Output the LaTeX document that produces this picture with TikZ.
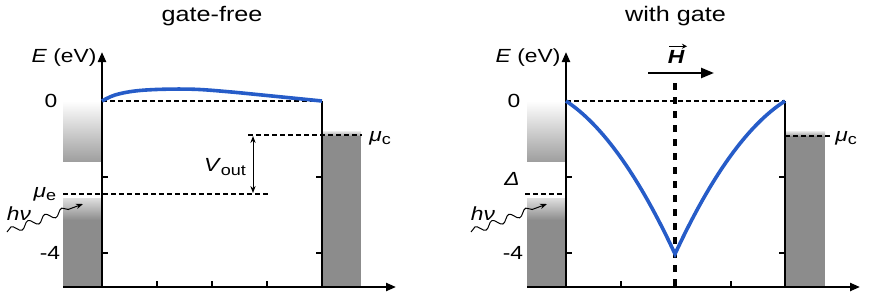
\documentclass[tikz,border=0pt]{standalone}
\usepackage{fontspec}
\setmainfont[FakeStretch=1.2]{Liberation Sans}
\usetikzlibrary{arrows.meta,decorations.pathmorphing}
\definecolor{bandgray}{RGB}{140,140,140}
\definecolor{curveblue}{RGB}{38,92,200}
\newcommand{\lowsub}[1]{\raisebox{-0.35ex}{\fontsize{15}{15}\selectfont #1}}
\tikzset{axisline/.style={line width=2.2pt, -{Triangle[length=10pt,width=8pt]}},
  wallline/.style={line width=2.2pt},
  levelline/.style={line width=1.6pt, dash pattern=on 4.5pt off 3.5pt},
  tickline/.style={line width=1.2pt},
  bandcurve/.style={line width=3.6pt, curveblue},
  lbl/.style={font=\fontsize{19}{22}\selectfont, inner sep=0pt},
  ttl/.style={font=\fontsize{21}{25}\selectfont, inner sep=0pt},
  photon/.style={line width=1pt, -{Stealth[length=7pt]}, decorate, decoration={snake, amplitude=3.5pt, segment length=18pt, post length=7pt}}}

\begin{document}
\begin{tikzpicture}[x=1pt, y=-1pt]
\useasboundingbox (0,0) rectangle (872,295);
% gate-free panel
\shade[top color=white, bottom color=gray!75] (63,101) rectangle (102,161);
\fill[bandgray] (63,198) rectangle (102,287);
\shade[top color=gray!25, bottom color=bandgray] (63,198) rectangle (102,220);
\shade[top color=gray!15, bottom color=bandgray] (322,131) rectangle (361,137);
\fill[bandgray] (322,136) rectangle (361,287);
\coordinate (o1) at (102,287);
\coordinate (top1) at (102,52);
\coordinate (xs1) at (63,287);
\coordinate (xe1) at (396,287);
\coordinate (wt1) at (322,101);
\coordinate (wb1) at (322,287);
\coordinate (vtop) at (253,136);
\coordinate (vbot) at (253,193);
\draw[levelline] (102,101) -- (wt1);
\draw[levelline] (63,194) -- (270,194);
\draw[levelline] (248,135) -- (362,135);
\draw[axisline] (o1) -- (top1);
\draw[axisline] (xs1) -- (xe1);
\draw[wallline] (wt1) -- (wb1);
\foreach \x in {157,212,267} \draw[tickline] (\x,287) -- (\x,281);
\foreach \y in {177,253} {\draw[tickline] (102,\y) -- (108,\y);
  \draw[tickline] (322,\y) -- (316,\y);}
\draw[line width=1pt, {Stealth[length=7pt]}-{Stealth[length=7pt]}] (vtop) -- (vbot);
\draw[bandcurve] plot[smooth, tension=0.6] coordinates {(102,101) (115,95) (135,91) (162,89.3) (195,89.3) (228,91.7) (262,95) (295,98.3) (322,101)};
\node[ttl] (titlefree) at (212,16) {gate-free};
\node[lbl] (elabel1) at (64,58) {\textit{E} (eV)};
\node[lbl] (zero1) at (51,101) {0};
\node[lbl] (four1) at (50,253) {-4};
\node[lbl] (mue) at (45,194) {\textit{μ}\lowsub{e}};
\node[lbl] (hnu1) at (19,214) {\textit{hν}};
\node[lbl] (muc1) at (380,138) {\textit{μ}\lowsub{c}};
\node[lbl] (vout) at (225,167) {\textit{V}\lowsub{out}};
\draw[photon] (7,232) -- (83,204);

% with gate panel
\shade[top color=white, bottom color=gray!75] (527,101) rectangle (566,161);
\fill[bandgray] (527,198) rectangle (566,287);
\shade[top color=gray!25, bottom color=bandgray] (527,198) rectangle (566,220);
\shade[top color=gray!15, bottom color=bandgray] (785,131) rectangle (825,137);
\fill[bandgray] (785,136) rectangle (825,287);
\coordinate (o2) at (566,287);
\coordinate (top2) at (566,52);
\coordinate (xs2) at (527,287);
\coordinate (xe2) at (860,287);
\coordinate (wt2) at (785,101);
\coordinate (wb2) at (785,287);
\coordinate (gtop) at (675,83);
\coordinate (gbot) at (675,287);
\coordinate (hs) at (648,73);
\coordinate (he) at (714,73);
\draw[levelline] (566,101) -- (wt2);
\draw[levelline] (525,194) -- (566,194);
\draw[levelline] (785,136) -- (830,136);
\draw[line width=3.2pt, dash pattern=on 7pt off 7pt] (gtop) -- (gbot);
\draw[axisline] (o2) -- (top2);
\draw[axisline] (xs2) -- (xe2);
\draw[wallline] (wt2) -- (wb2);
\foreach \x in {621,676,731} \draw[tickline] (\x,287) -- (\x,281);
\foreach \y in {177,253} {\draw[tickline] (566,\y) -- (572,\y);
  \draw[tickline] (785,\y) -- (779,\y);}
\draw[bandcurve] (566,101) .. controls (602.3,124.9) and (638.7,175.9) .. (675,254)
  .. controls (711.3,175.9) and (747.7,124.9) .. (785,101);
\draw[line width=2.4pt, -{Triangle[length=13pt,width=10pt]}] (hs) -- (he);
\node[ttl] (titlegate) at (675.5,16) {with gate};
\node[lbl] (hfield) at (676,57) {\bfseries\itshape H};
\draw[line width=1.2pt, -{Stealth[length=5pt,width=5pt]}] ([xshift=-7pt,yshift=4pt]hfield.north) -- ([xshift=11pt,yshift=4pt]hfield.north);
\node[lbl] (elabel2) at (528,58) {\textit{E} (eV)};
\node[lbl] (zero2) at (514,101) {0};
\node[lbl] (four2) at (513,253) {-4};
\node[lbl] (delta) at (512,179) {\textit{Δ}};
\node[lbl] (hnu2) at (483,214) {\textit{hν}};
\node[lbl] (muc2) at (846,138) {\textit{μ}\lowsub{c}};
\draw[photon] (471,232) -- (547,204);
\end{tikzpicture}
\end{document}
